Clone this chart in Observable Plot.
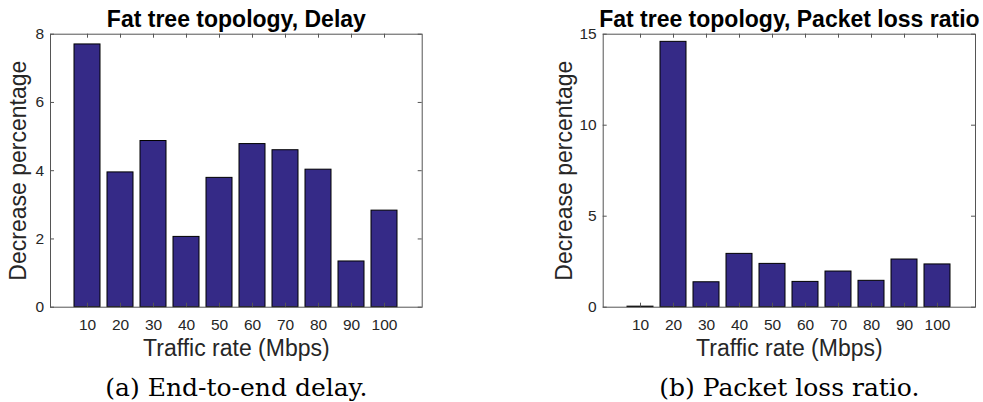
<!DOCTYPE html>
<html>
<head>
<meta charset="utf-8">
<script src="https://cdn.jsdelivr.net/npm/d3@7"></script>
<script src="https://cdn.jsdelivr.net/npm/@observablehq/plot@0.6"></script>
<style>
  html, body { margin: 0; padding: 0; background: #fff; }
  #wrap { display: flex; flex-direction: row; width: 983px; height: 402px; }
  svg { display: block; }
  g[aria-label$="tick label"] text { font-size: 15.5px; }
</style>
</head>
<body>
<div id="wrap"></div>
<script>
const rates = [10, 20, 30, 40, 50, 60, 70, 80, 90, 100];
const delayDecrease = [7.70, 3.95, 4.87, 2.06, 3.79, 4.78, 4.60, 4.03, 1.34, 2.83];
const lossDecrease = [0.03, 14.58, 1.37, 2.93, 2.38, 1.39, 1.96, 1.45, 2.62, 2.35];
const delayTicks = [0, 2, 4, 6, 8];
const lossTicks = [0, 5, 10, 15];

const titles = ["Fat tree topology, Delay", "Fat tree topology, Packet loss ratio"];
const captions = ["(a) End-to-end delay.", "(b) Packet loss ratio."];
const xLabel = "Traffic rate (Mbps)";
const yLabel = "Decrease percentage";

const H = 402, MT = 33.7, MB = 95.3;
const SANS = "Liberation Sans, Arial, Helvetica, sans-serif";
const AX = "#555";
const BAR = "#352a87";

function panel({width, ml, mr, values, yMax, yTicks, title, caption, yLabelX}) {
  const FW = width - ml - mr, FH = H - MT - MB;
  const data = rates.map((r, i) => ({rate: r, value: values[i]}));
  return Plot.plot({
    width, height: H,
    marginLeft: ml, marginRight: mr, marginTop: MT, marginBottom: MB,
    style: {fontFamily: SANS, fontSize: "15.5px", background: "#fff", color: "#262626"},
    x: {type: "band", domain: rates, paddingInner: 0.2, paddingOuter: 0.6, align: 0.5, label: null},
    y: {domain: [0, yMax], label: null},
    marks: [
      Plot.barY(data, {x: "rate", y: "value", fill: BAR, stroke: "#000", strokeWidth: 1}),
      Plot.axisY({ticks: yTicks, tickSize: 0, tickPadding: 6.5, fontSize: 15.5, label: null, fill: "#262626"}),
      Plot.axisX({tickSize: 0, tickPadding: 11.6, fontSize: 15.5, label: null, fill: "#262626"}),
      Plot.tickY(yTicks, {y: d => d, insetRight: FW - 4, stroke: AX, strokeWidth: 1}),
      Plot.tickY(yTicks, {y: d => d, insetLeft: FW - 4, stroke: AX, strokeWidth: 1}),
      Plot.tickX(rates, {x: d => d, insetTop: FH - 4, stroke: AX, strokeWidth: 1}),
      Plot.tickX(rates, {x: d => d, insetBottom: FH - 4, stroke: AX, strokeWidth: 1}),
      Plot.frame({stroke: AX, strokeWidth: 1}),
      Plot.text([title], {frameAnchor: "top", textAnchor: "middle", lineAnchor: "bottom", dy: -7.7,
        fontSize: 23, fontWeight: "bold", fontFamily: SANS, fill: "#000"}),
      Plot.text([xLabel], {frameAnchor: "bottom", textAnchor: "middle", lineAnchor: "bottom", dy: 48.3,
        fontSize: 23, fontFamily: SANS, fill: "#262626"}),
      Plot.text([yLabel], {frameAnchor: "left", textAnchor: "middle", lineAnchor: "bottom", rotate: -90,
        dx: yLabelX - ml, fontSize: 23, fontFamily: SANS, fill: "#262626"}),
      Plot.text([caption], {frameAnchor: "bottom", textAnchor: "middle", lineAnchor: "bottom", dy: 88.5,
        fontSize: 25, fontFamily: "DejaVu Serif, serif", fill: "#000"})
    ]
  });
}

const wrap = document.getElementById("wrap");
wrap.appendChild(panel({width: 500, ml: 50, mr: 78.3, values: delayDecrease, yMax: 8, yTicks: delayTicks,
  title: titles[0], caption: captions[0], yLabelX: 25.3}));
wrap.appendChild(panel({width: 483, ml: 102.7, mr: 8, values: lossDecrease, yMax: 15, yTicks: lossTicks,
  title: titles[1], caption: captions[1], yLabelX: 71.7}));
</script>
</body>
</html>
